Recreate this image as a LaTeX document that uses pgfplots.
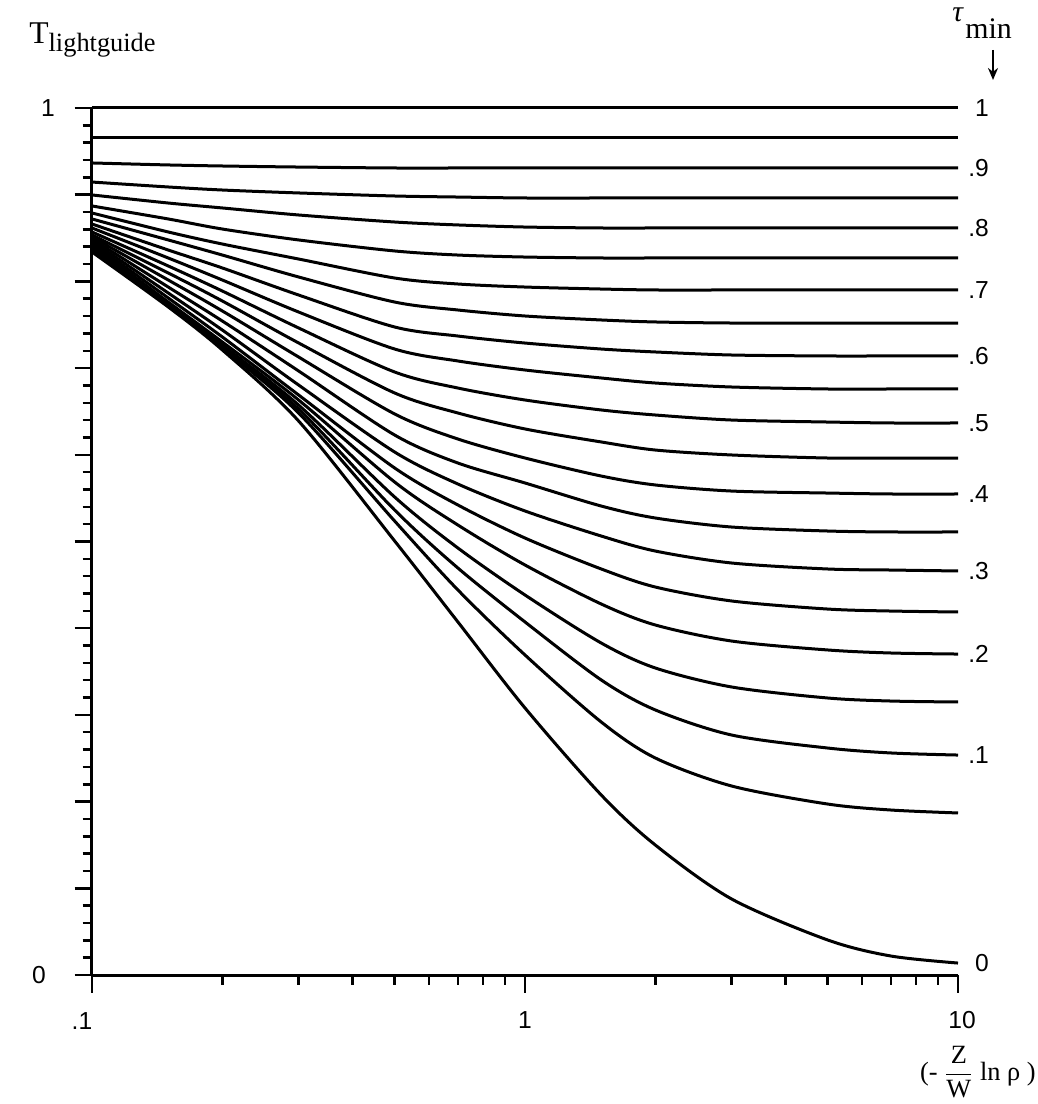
\documentclass[border=0pt]{standalone}
\usepackage{fontspec}
\setmainfont{Liberation Serif}
\newfontfamily\sansf{Liberation Sans}
\usepackage{pgfplots}
\usepackage{pgfplotstable}
\pgfplotsset{compat=1.18}
\usetikzlibrary{arrows.meta}

% T_lightguide, one column per tau_min
\pgfplotstableread{
x    t100  t95    t90    t85    t80    t75    t70    t65    t60    t55    t50    t45    t40    t35    t30    t25    t20    t15    t10    t05    t00
0.1  1.000 0.9654 0.9366 0.9146 0.8997 0.8870 0.8789 0.8720 0.8662 0.8616 0.8570 0.8535 0.8512 0.8489 0.8466 0.8443 0.8420 0.8397 0.8374 0.8362 0.8339
0.15 1.000 0.9654 0.9343 0.9089 0.8904 0.8720 0.8570 0.8478 0.8362 0.8270 0.8178 0.8097 0.8016 0.7935 0.7866 0.7809 0.7762 0.7751 0.7739 0.7728 0.7705
0.2  1.000 0.9654 0.9331 0.9054 0.8847 0.8604 0.8431 0.8304 0.8155 0.8016 0.7889 0.7774 0.7659 0.7543 0.7439 0.7359 0.7301 0.7266 0.7243 0.7232 0.7209
0.3  1.000 0.9654 0.9319 0.9020 0.8766 0.8478 0.8258 0.8051 0.7843 0.7647 0.7463 0.7290 0.7128 0.6967 0.6805 0.6690 0.6632 0.6574 0.6528 0.6482 0.6390
0.5  1.000 0.9654 0.9308 0.8985 0.8685 0.8351 0.8039 0.7762 0.7474 0.7220 0.6955 0.6713 0.6471 0.6228 0.6032 0.5848 0.5686 0.5513 0.5363 0.5236 0.5006
0.7  1.000 0.9654 0.9308 0.8973 0.8651 0.8304 0.7970 0.7670 0.7370 0.7082 0.6770 0.6482 0.6182 0.5905 0.5663 0.5421 0.5190 0.4925 0.4694 0.4441 0.4072
1    1.000 0.9654 0.9308 0.8962 0.8627 0.8281 0.7935 0.7601 0.7289 0.6978 0.6632 0.6298 0.5963 0.5675 0.5352 0.5040 0.4729 0.4383 0.4072 0.3691 0.3080
1.5  1.000 0.9654 0.9308 0.8962 0.8616 0.8270 0.7912 0.7555 0.7220 0.6886 0.6517 0.6148 0.5755 0.5409 0.5063 0.4683 0.4279 0.3829 0.3403 0.2918 0.2076
2    1.000 0.9654 0.9308 0.8962 0.8616 0.8270 0.7901 0.7532 0.7186 0.6828 0.6459 0.6055 0.5652 0.5271 0.4890 0.4475 0.4037 0.3541 0.3057 0.2503 0.1499
3    1.000 0.9654 0.9308 0.8962 0.8616 0.8270 0.7901 0.7520 0.7151 0.6782 0.6401 0.5998 0.5582 0.5167 0.4752 0.4314 0.3852 0.3322 0.2768 0.2180 0.0877
5    1.000 0.9654 0.9308 0.8962 0.8616 0.8270 0.7901 0.7520 0.7140 0.6759 0.6378 0.5963 0.5559 0.5121 0.4683 0.4221 0.3749 0.3195 0.2618 0.1972 0.0404
7    1.000 0.9654 0.9308 0.8962 0.8616 0.8270 0.7901 0.7520 0.7140 0.6759 0.6367 0.5963 0.5548 0.5110 0.4671 0.4198 0.3714 0.3160 0.2561 0.1903 0.0219
10   1.000 0.9654 0.9308 0.8962 0.8616 0.8270 0.7901 0.7520 0.7140 0.6759 0.6367 0.5963 0.5548 0.5110 0.4660 0.4187 0.3702 0.3149 0.2537 0.1869 0.0138
}\tdata

\newcommand\lab{\sansf\fontsize{14}{16}\selectfont}

\begin{document}
\begin{tikzpicture}
% page frame, in pixels of the reference (1 px = 0.2 mm)
\begin{scope}[x=0.2mm, y=-0.2mm, shift={(-18.4mm,195mm)}]
  \path (0,0) rectangle (1038,1104);
\end{scope}

\begin{axis}[
    at={(0,0)}, anchor=south west,
    width=173.2mm, height=173.4mm,
    scale only axis,
    xmode=log,
    xmin=0.1, xmax=10,
    ymin=0, ymax=1,
    axis lines=left,
    axis line style={-, line width=0.6mm},
    xtick={0.1,1,10}, xticklabels={},
    ytick={0,0.1,0.2,0.3,0.4,0.5,0.6,0.7,0.8,0.9,1}, yticklabels={},
    minor y tick num=4,
    tick align=outside,
    major tick length=3.5mm,
    minor tick length=1.9mm,
    every tick/.style={black, line width=0.5mm},
    clip=false
]
\pgfplotsinvokeforeach{t100,t95,t90,t85,t80,t75,t70,t65,t60,t55,t50,t45,t40,t35,t30,t25,t20,t15,t10,t05,t00}{
  \addplot[black, line width=0.6mm, smooth] table[x=x, y=#1] {\tdata};
}

\node[anchor=east, font=\lab, xshift=7.4mm] at (axis cs:10,1.0)    {1};
\node[anchor=east, font=\lab, xshift=7.4mm] at (axis cs:10,0.9308) {.9};
\node[anchor=east, font=\lab, xshift=7.4mm] at (axis cs:10,0.8616) {.8};
\node[anchor=east, font=\lab, xshift=7.4mm] at (axis cs:10,0.7901) {.7};
\node[anchor=east, font=\lab, xshift=7.4mm] at (axis cs:10,0.7140) {.6};
\node[anchor=east, font=\lab, xshift=7.4mm] at (axis cs:10,0.6367) {.5};
\node[anchor=east, font=\lab, xshift=7.4mm] at (axis cs:10,0.5548) {.4};
\node[anchor=east, font=\lab, xshift=7.4mm] at (axis cs:10,0.4660) {.3};
\node[anchor=east, font=\lab, xshift=7.4mm] at (axis cs:10,0.3702) {.2};
\node[anchor=east, font=\lab, xshift=7.4mm] at (axis cs:10,0.2537) {.1};
\node[anchor=east, font=\lab, xshift=7.4mm] at (axis cs:10,0.0138) {0};
\end{axis}

% texts around the axis, placed in reference pixels
\begin{scope}[x=0.2mm, y=-0.2mm, shift={(-18.4mm,195mm)}]
  \node[font=\lab] at (48,108) {1};
  \node[font=\lab] at (39,975) {0};
  \node[font=\lab] at (82,1021) {.1};
  \node[font=\lab] at (525,1020) {1};
  \node[font=\lab] at (962,1020) {10};
  \node[anchor=base west, inner sep=0] at (29,44)
    {\fontsize{18}{20}\selectfont T\raisebox{-1.5mm}{\fontsize{15}{17}\selectfont lightguide}};
  \node[anchor=base west, inner sep=0] at (952,22) {\fontsize{17}{19}\selectfont\itshape τ};
  \node[anchor=base west, inner sep=0] at (965,39) {\fontsize{17}{19}\selectfont min};
  \draw[line width=0.5mm, -{Stealth[length=2.4mm, width=2mm]}] (993,50) -- (993,80);
  \node[anchor=east, inner sep=0] at (1036,1072)
    {\fontsize{15}{17}\selectfont (- $\displaystyle\frac{\mathrm{Z}}{\mathrm{W}}$ ln ρ )};
\end{scope}
\end{tikzpicture}
\end{document}
